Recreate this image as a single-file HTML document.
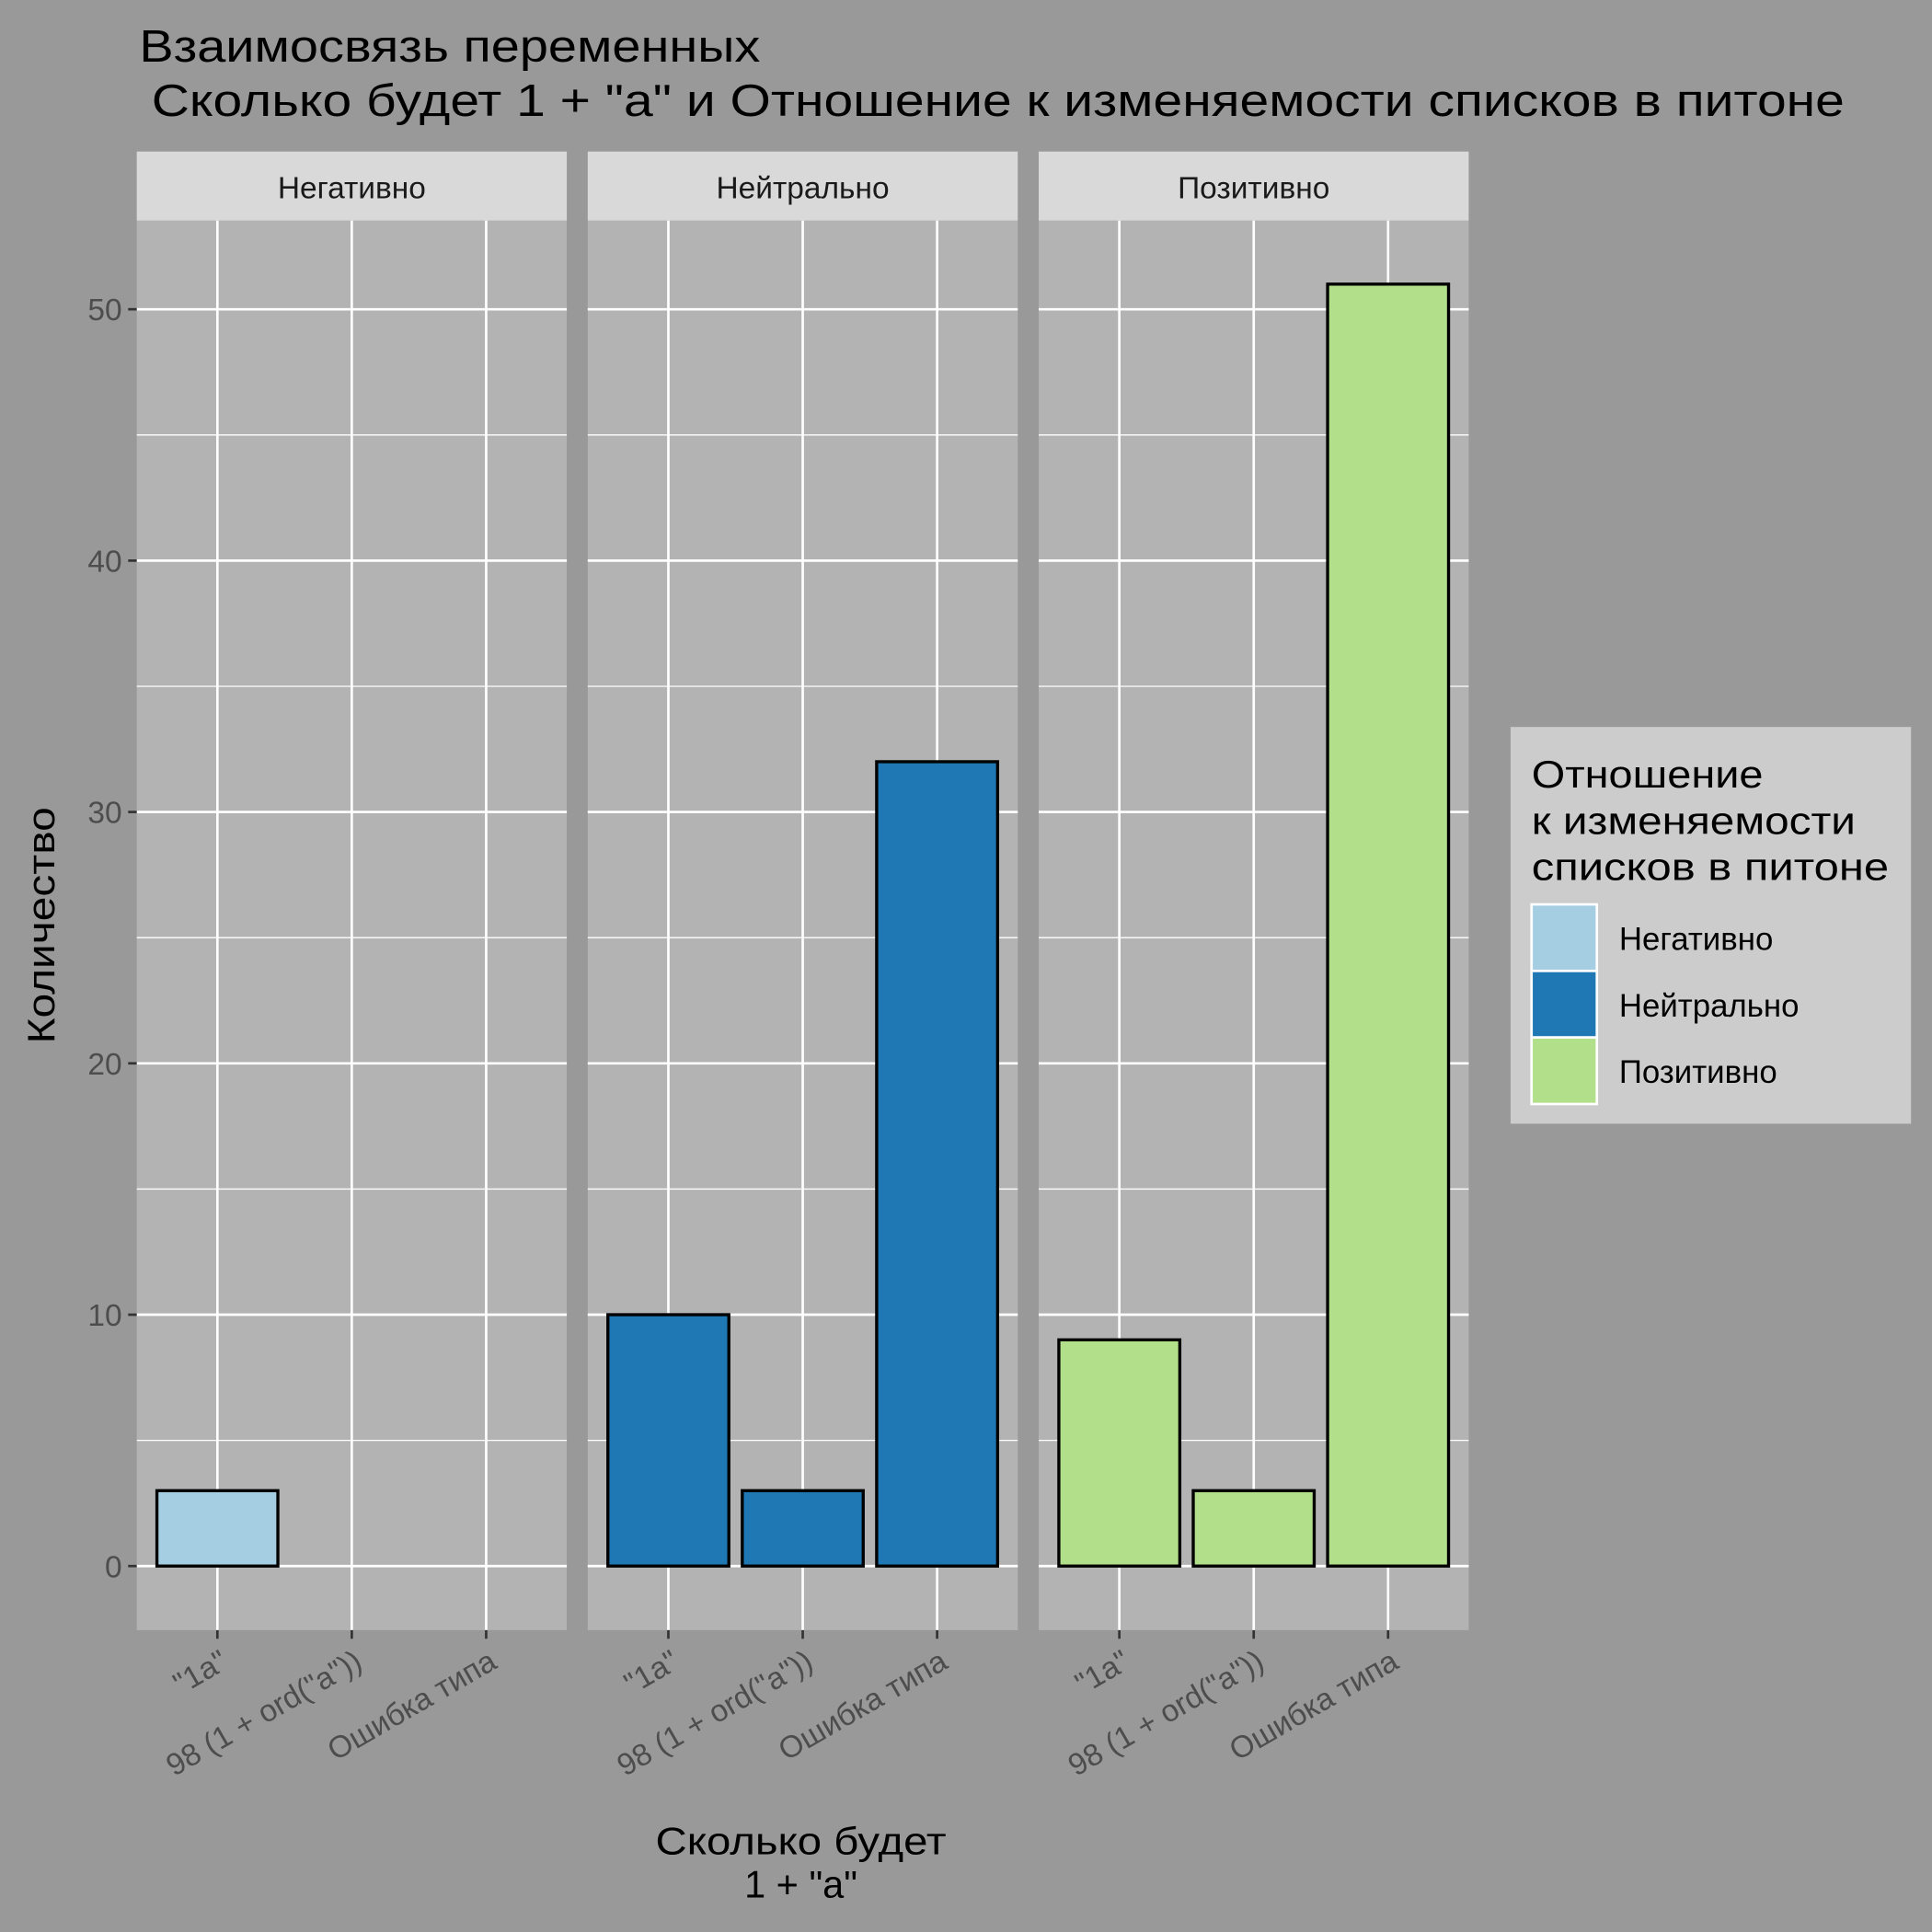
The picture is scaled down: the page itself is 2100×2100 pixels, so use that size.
<!DOCTYPE html>
<html><head><meta charset="utf-8"><style>
html,body{margin:0;padding:0;background:#999}
svg{display:block}
text{font-family:"Liberation Sans","DejaVu Sans",sans-serif}
</style></head><body>
<svg id="chart" width="2100" height="2100" viewBox="0 0 1568 1568" xmlns="http://www.w3.org/2000/svg">
<rect x="0" y="0" width="1568" height="1568" fill="#999999"/>
<text x="113" y="50" font-size="37" fill="#000" textLength="504" lengthAdjust="spacingAndGlyphs">Взаимосвязь переменных</text>
<text x="123" y="94" font-size="37" fill="#000" textLength="1374" lengthAdjust="spacingAndGlyphs">Сколько будет 1 + "a" и Отношение к изменяемости списков в питоне</text>
<g id="panels"></g>
<text transform="translate(44,751) rotate(-90)" text-anchor="middle" font-size="31" fill="#000" textLength="192" lengthAdjust="spacingAndGlyphs">Количество</text>
<text x="650" y="1505" text-anchor="middle" font-size="31" fill="#000" textLength="236" lengthAdjust="spacingAndGlyphs">Сколько будет</text>
<text x="650" y="1540" text-anchor="middle" font-size="31" fill="#000">1 + "a"</text>
<g>
<rect x="1226" y="590" width="325" height="322" fill="#cccccc"/>
<text x="1243" y="639" font-size="31" fill="#000" textLength="188" lengthAdjust="spacingAndGlyphs">Отношение</text>
<text x="1243" y="677" font-size="31" fill="#000" textLength="263" lengthAdjust="spacingAndGlyphs">к изменяемости</text>
<text x="1243" y="714" font-size="31" fill="#000" textLength="290" lengthAdjust="spacingAndGlyphs">списков в питоне</text>
<g id="legend-items"></g>
</g>
</svg>
<script>
const facets = ["Негативно", "Нейтрально", "Позитивно"];
const categories = ['"1a"', '98 (1 + ord("a"))', 'Ошибка типа'];
const negValues = [3, 0, 0];
const neuValues = [10, 3, 32];
const posValues = [9, 3, 51];
const yTicks = [0, 10, 20, 30, 40, 50];
const colors = ["#a6cee3", "#1f78b4", "#b2df8a"];
const seriesValues = [negValues, neuValues, posValues];

const NS = "http://www.w3.org/2000/svg";
const panelsG = document.getElementById("panels");
const panelLefts = [111, 477, 843];
const panelW = 349, panelTop = 179, panelBottom = 1323;
function yScale(v){ return 1271 - v * 20.4; }
function mk(tag, attrs, parent){ const e = document.createElementNS(NS, tag); for (const k in attrs) e.setAttribute(k, attrs[k]); parent.appendChild(e); return e; }

facets.forEach((f, p) => {
  const L = panelLefts[p];
  const pr = mk("rect", {x:L, y:panelTop, width:panelW, height:panelBottom-panelTop, fill:"#b3b3b3"}, panelsG);
  
  
  const sr = mk("rect", {x:L, y:123, width:panelW, height:56, fill:"#d9d9d9"}, panelsG);
  
  
  const st = mk("text", {x:L+panelW/2, y:161, "text-anchor":"middle", "font-size":"25", fill:"#1a1a1a"}, panelsG);
  st.textContent = f;
  
  
  for (let k = 0; k < yTicks.length; k++) {
    const m = yTicks[k] + 5;
    if (yScale(m) < panelTop) continue;
    const ml = mk("line", {x1:L, x2:L+panelW, y1:yScale(m), y2:yScale(m), stroke:"#ffffff", "stroke-width":"1"}, panelsG);
    
    
  }
  yTicks.forEach(t => {
    const gl = mk("line", {x1:L, x2:L+panelW, y1:yScale(t), y2:yScale(t), stroke:"#ffffff", "stroke-width":"2"}, panelsG);
    
    
  });
  categories.forEach((c, i) => {
    const step = panelW / 3.2;
    const cx = L + step * (0.6 + i);
    const vl = mk("line", {x1:cx, x2:cx, y1:panelTop, y2:panelBottom, stroke:"#ffffff", "stroke-width":"2"}, panelsG);
    
    
    const v = seriesValues[p][i];
    if (v > 0) {
      const bw = step * 0.9;
      const b = mk("rect", {x:cx-bw/2, y:yScale(v), width:bw, height:yScale(0)-yScale(v), fill:colors[p], stroke:"#000", "stroke-width":"2.5"}, panelsG);
      
      
    }
    const tk = mk("line", {x1:cx, x2:cx, y1:panelBottom, y2:panelBottom+7, stroke:"#333", "stroke-width":"2"}, panelsG);
    
    
    const tl = mk("text", {transform:`translate(${cx+10},${panelBottom+30}) rotate(-30)`, "text-anchor":"end", "font-size":"25", fill:"#4d4d4d"}, panelsG);
    tl.textContent = c;
    
    
  });
});
yTicks.forEach(t => {
  const tk = mk("line", {x1:104, x2:111, y1:yScale(t), y2:yScale(t), stroke:"#333", "stroke-width":"2"}, panelsG);
  
  
  const tl = mk("text", {x:99, y:yScale(t)+9, "text-anchor":"end", "font-size":"25", fill:"#4d4d4d"}, panelsG);
  tl.textContent = t;
  
  
});
const lg = document.getElementById("legend-items");
facets.forEach((f, k) => {
  const y0 = 734 + k * 54;
  const r = mk("rect", {x:1243, y:y0, width:53, height:54, fill:colors[k], stroke:"#ffffff", "stroke-width":"2"}, lg);
  
  
  const t = mk("text", {x:1314, y:y0+37, "font-size":"26", fill:"#000"}, lg);
  t.textContent = f;
  
  
});
</script>
</body></html>
